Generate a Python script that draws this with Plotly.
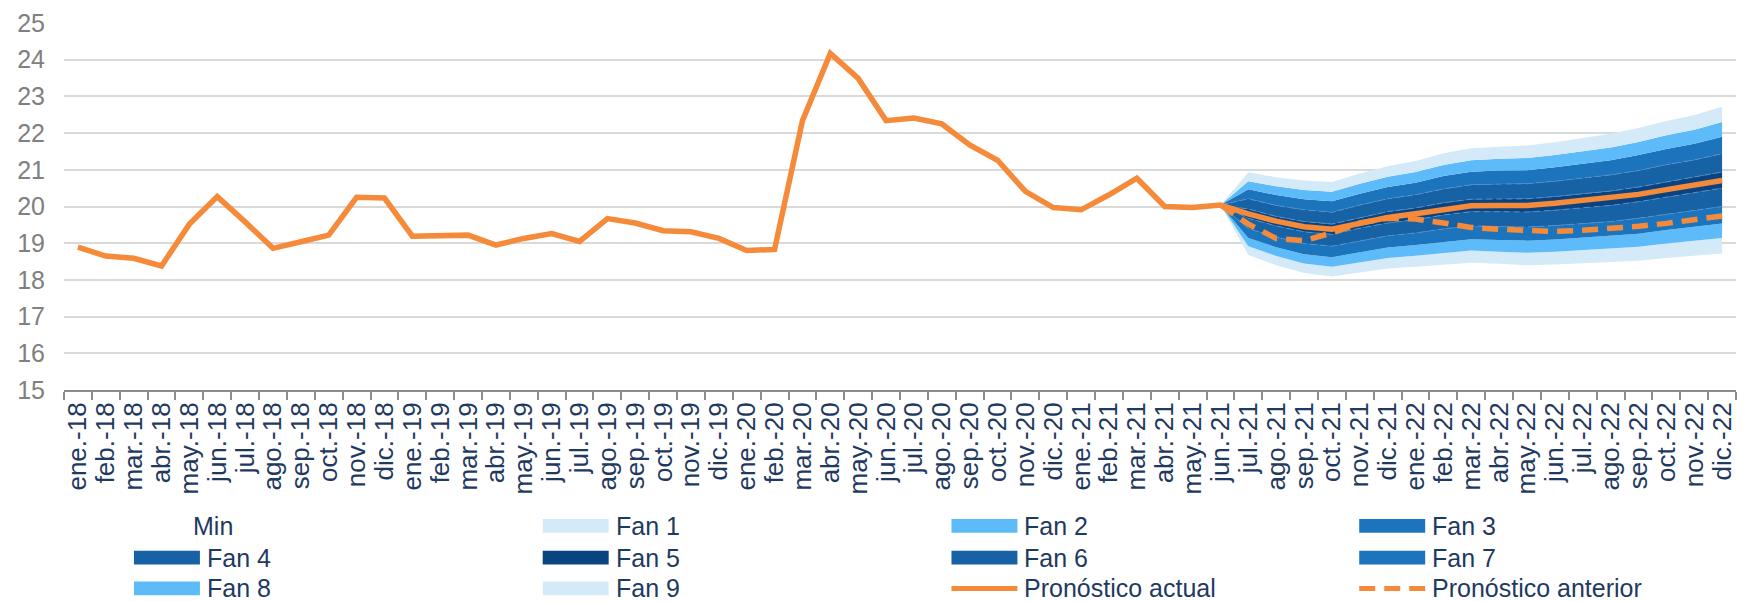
import plotly.graph_objects as go

# Month axis: ene.-18 ... dic.-22
months = ["ene.", "feb.", "mar.", "abr.", "may.", "jun.",
          "jul.", "ago.", "sep.", "oct.", "nov.", "dic."]
years = ["18", "19", "20", "21", "22"]
labels = [f"{m}-{y}" for y in years for m in months]

# Observed exchange rate + current forecast (solid orange)
pronostico_actual = [
    18.89, 18.65, 18.59, 18.38, 19.52, 20.27, 19.58, 18.86, 19.04, 19.22, 20.25, 20.23,
    19.19, 19.19, 19.22, 18.95, 19.13, 19.26, 19.05, 19.67, 19.55, 19.34, 19.31, 19.13,
    18.80, 18.83, 22.34, 24.17, 23.49, 22.34, 22.41, 22.25, 21.68, 21.26, 20.41, 19.97,
    19.91, 20.32, 20.77, 20.00, 19.97, 20.04, 19.80, 19.60, 19.45, 19.38, 19.55, 19.70,
    19.80, 19.92, 20.02, 20.03, 20.03, 20.09, 20.16, 20.23, 20.33, 20.46, 20.59, 20.71,
]

# Forecast horizon (jun.-21 ... dic.-22)
fan_labels = labels[41:]

pronostico_anterior = [20.04, 19.52, 19.13, 19.07, 19.28, 19.55, 19.68, 19.66, 19.55, 19.43,
                       19.38, 19.34, 19.32, 19.35, 19.40, 19.46, 19.54, 19.63, 19.74]

# Fan chart: base level plus stacked band widths
fan_min = [20.04, 18.68, 18.40, 18.19, 18.09, 18.21, 18.31, 18.36, 18.42, 18.47,
           18.44, 18.40, 18.42, 18.45, 18.47, 18.52, 18.60, 18.67, 18.72]
fan_1 = [0, 0.24, 0.25, 0.26, 0.27, 0.28, 0.29, 0.30, 0.32, 0.33, 0.33, 0.34, 0.35, 0.36, 0.37, 0.38, 0.39, 0.40, 0.42]
fan_2 = [0, 0.22, 0.24, 0.25, 0.26, 0.27, 0.28, 0.29, 0.30, 0.31, 0.32, 0.33, 0.33, 0.34, 0.35, 0.36, 0.37, 0.38, 0.40]
fan_3 = [0, 0.26, 0.28, 0.29, 0.30, 0.31, 0.32, 0.33, 0.35, 0.36, 0.37, 0.37, 0.38, 0.39, 0.40, 0.42, 0.43, 0.44, 0.46]
fan_4 = [0, 0.28, 0.30, 0.32, 0.32, 0.34, 0.35, 0.36, 0.38, 0.39, 0.40, 0.41, 0.42, 0.43, 0.44, 0.45, 0.47, 0.48, 0.50]
fan_5 = [0, 0.25, 0.26, 0.28, 0.28, 0.29, 0.31, 0.32, 0.33, 0.34, 0.35, 0.36, 0.37, 0.38, 0.39, 0.40, 0.41, 0.42, 0.44]
fan_6 = [0, 0.28, 0.30, 0.32, 0.32, 0.34, 0.35, 0.36, 0.38, 0.39, 0.40, 0.41, 0.42, 0.43, 0.44, 0.45, 0.47, 0.48, 0.50]
fan_7 = [0, 0.26, 0.28, 0.29, 0.30, 0.31, 0.32, 0.33, 0.35, 0.36, 0.37, 0.37, 0.38, 0.39, 0.40, 0.42, 0.43, 0.44, 0.46]
fan_8 = [0, 0.22, 0.24, 0.25, 0.26, 0.27, 0.28, 0.29, 0.30, 0.31, 0.32, 0.33, 0.33, 0.34, 0.35, 0.36, 0.37, 0.38, 0.40]
fan_9 = [0, 0.24, 0.25, 0.26, 0.27, 0.28, 0.29, 0.30, 0.32, 0.33, 0.33, 0.34, 0.35, 0.36, 0.37, 0.38, 0.39, 0.40, 0.42]

y_ticks = list(range(15, 26))

# Styling
C_LIGHT = "#D5EAF9"
C_SKY = "#5CBBF8"
C_MID = "#1C74BC"
C_DARK = "#1762A5"
C_NAVY = "#0A4480"
C_ORANGE = "#F58B3A"
C_SEP = "#4F8FCF"
C_TEXT = "#1F3A60"

fan_series = [
    ("Fan 1", fan_1, C_LIGHT), ("Fan 2", fan_2, C_SKY), ("Fan 3", fan_3, C_MID),
    ("Fan 4", fan_4, C_DARK), ("Fan 5", fan_5, C_NAVY), ("Fan 6", fan_6, C_DARK),
    ("Fan 7", fan_7, C_MID), ("Fan 8", fan_8, C_SKY), ("Fan 9", fan_9, C_LIGHT),
]

fig = go.Figure()

fig.add_trace(go.Scatter(
    x=fan_labels, y=fan_min, name="Min", mode="lines",
    stackgroup="fan", line=dict(width=0), fillcolor="rgba(0,0,0,0)",
    showlegend=False, hoverinfo="skip",
))
for name, vals, col in fan_series:
    fig.add_trace(go.Scatter(
        x=fan_labels, y=vals, name=name, mode="lines",
        stackgroup="fan", line=dict(width=0, color=col), fillcolor=col,
        showlegend=False,
    ))

# Thin dashed separators between the inner bands
running = list(fan_min)
edges = []
for name, vals, col in fan_series:
    running = [a + b for a, b in zip(running, vals)]
    edges.append(list(running))
for k in (2, 3, 4, 5):
    fig.add_trace(go.Scatter(
        x=fan_labels, y=edges[k], mode="lines", showlegend=False, hoverinfo="skip",
        line=dict(color=C_SEP, width=1, dash="6px,4px"),
    ))

fig.add_trace(go.Scatter(
    x=labels, y=pronostico_actual, name="Pronóstico actual", mode="lines",
    line=dict(color=C_ORANGE, width=5.5), showlegend=False,
))
fig.add_trace(go.Scatter(
    x=fan_labels, y=pronostico_anterior, name="Pronóstico anterior", mode="lines",
    line=dict(color=C_ORANGE, width=5.5, dash="16px,9px"), showlegend=False,
))

# Plot-area geometry in pixels (used for the legend block below the axis)
W, H = 1746, 602
ML, MR, MT, MB = 64, 9, 20, 212
PW, PH = W - ML - MR, H - MT - MB


def px_x(px):
    return (px - ML) / PW


def px_y(py):
    return (H - MB - py) / PH


legend_rows = [
    [("Min", None), ("Fan 1", C_LIGHT), ("Fan 2", C_SKY), ("Fan 3", C_MID)],
    [("Fan 4", C_DARK), ("Fan 5", C_NAVY), ("Fan 6", C_DARK), ("Fan 7", C_MID)],
    [("Fan 8", C_SKY), ("Fan 9", C_LIGHT), ("Pronóstico actual", "solid"), ("Pronóstico anterior", "dash")],
]
col_left = [134, 543, 952, 1360]
row_y = [527, 559, 590]
sw_w, sw_h = 66, 14

shapes = []
annotations = []
for r, row in enumerate(legend_rows):
    cy = row_y[r]
    for c, (text, kind) in enumerate(row):
        x0 = col_left[c]
        tx = x0 + sw_w + 5
        if kind == "solid" or kind == "dash":
            shapes.append(dict(
                type="line", xref="paper", yref="paper",
                x0=px_x(x0), x1=px_x(x0 + sw_w), y0=px_y(cy), y1=px_y(cy),
                line=dict(color=C_ORANGE, width=5, dash="solid" if kind == "solid" else "16px,9px"),
            ))
        elif kind is not None:
            shapes.append(dict(
                type="rect", xref="paper", yref="paper",
                x0=px_x(x0), x1=px_x(x0 + sw_w),
                y0=px_y(cy + sw_h / 2), y1=px_y(cy - sw_h / 2),
                fillcolor=kind, line=dict(width=0),
            ))
        else:
            tx = x0 + sw_w - 9
        annotations.append(dict(
            text=text, xref="paper", yref="paper",
            x=px_x(tx), y=px_y(cy), xanchor="left", yanchor="middle",
            showarrow=False, font=dict(size=25, color=C_TEXT),
        ))

fig.update_layout(
    width=W, height=H, autosize=False,
    margin=dict(l=ML, r=MR, t=MT, b=MB, pad=0),
    paper_bgcolor="white", plot_bgcolor="white",
    font=dict(family="Liberation Sans, Arial, sans-serif"),
    showlegend=False,
    shapes=shapes, annotations=annotations,
    xaxis=dict(
        type="category", categoryorder="array", categoryarray=labels,
        tickmode="array", tickvals=labels, ticktext=labels,
        tickson="boundaries", ticks="outside", ticklen=8, tickwidth=2, tickcolor="#8C8C8C",
        showline=True, linecolor="#8C8C8C", linewidth=2,
        showgrid=False, tickangle=-90,
        tickfont=dict(size=26, color=C_TEXT),
        range=[-0.5, 59.5], fixedrange=True,
    ),
    yaxis=dict(
        range=[15, 25], tickvals=y_ticks, showgrid=True, gridcolor="#D9D9D9", gridwidth=1.5,
        zeroline=False, showline=False, ticks="",
        tickfont=dict(size=25, color="#808080"), ticklabelstandoff=18,
    ),
)

fig.write_html("out.html")
